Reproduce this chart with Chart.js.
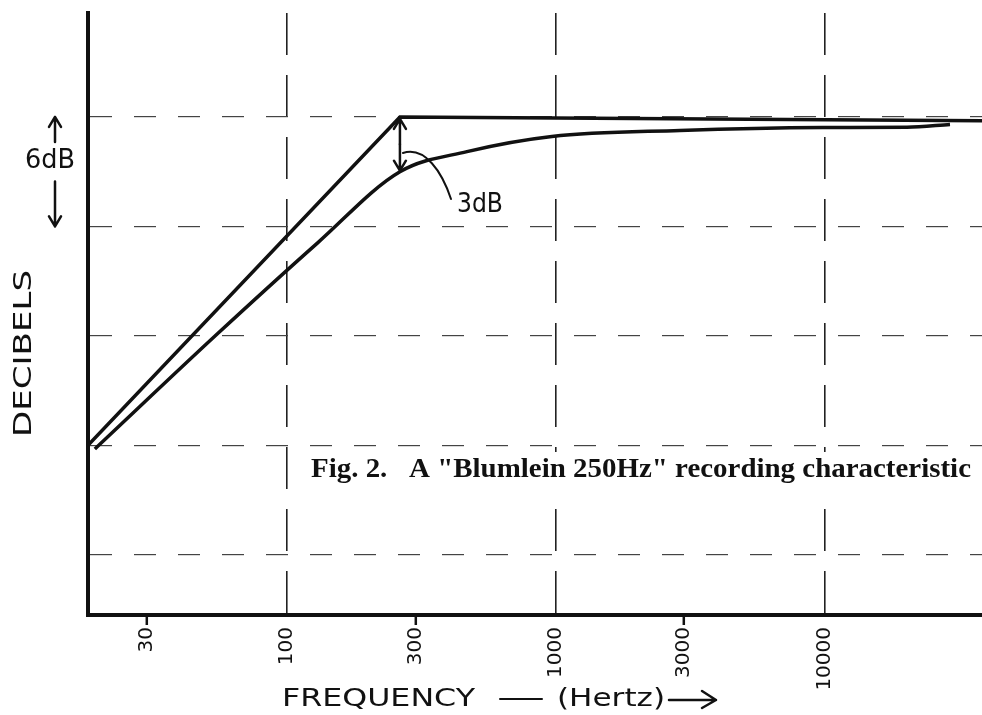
<!doctype html>
<html>
<head>
    <title>Blumlein 250Hz</title>
    <script src="https://cdn.jsdelivr.net/npm/chart.js"></script>
    <style>
        body { margin: 0; background: #fff; }
        canvas { display: block; }
    </style>
</head>
<body>
    <canvas id="grafico" width="982" height="715"></canvas>

    <script>
        // Eixo de frequência (Hz) e marcas
        var freqTicks = [30, 100, 300, 1000, 3000, 10000];
        var tickLabels = ['30', '100', '300', '1000', '3000', '10000'];
        var gridFreqs = [100, 1000, 10000];
        // Linhas horizontais, a cada 6 dB
        var dbGrid = [-24, -18, -12, -6, 0];

        // Assíntotas (reta de subida + patamar)
        var asymFreq = [18.2, 263, 38400];
        var asymDb = [-18, 0, -0.2];

        // Curva real da característica
        var respFreq = [19.3, 55, 130, 263, 467, 966, 2890, 9840, 20200, 29200];
        var respDb = [-18.2, -11.9, -6.9, -3.0, -1.9, -1.07, -0.74, -0.58, -0.56, -0.41];

        var tinta = '#111';
        var maoLivre = '"DejaVu Sans", sans-serif';

        function pontos(xs, ys) {
            return xs.map(function (x, i) { return { x: x, y: ys[i] }; });
        }

        // Texto esticado/comprimido para caber numa largura
        function textoAjustado(ctx, texto, x, y, largura, fonte) {
            ctx.save();
            ctx.font = fonte;
            ctx.textAlign = 'left';
            ctx.textBaseline = 'middle';
            var w = ctx.measureText(texto).width;
            ctx.translate(x, y);
            ctx.scale(largura / w, 1);
            ctx.fillText(texto, 0, 0);
            ctx.restore();
        }

        function seta(ctx, x, yDe, yPara) {
            var d = yPara > yDe ? 1 : -1;
            ctx.beginPath();
            ctx.moveTo(x, yDe);
            ctx.lineTo(x, yPara);
            ctx.moveTo(x - 6, yPara - d * 10);
            ctx.lineTo(x, yPara);
            ctx.lineTo(x + 6, yPara - d * 10);
            ctx.stroke();
        }

        // Anotações à mão: títulos, setas de 6 dB e 3 dB, legenda da figura
        var anotacoes = {
            id: 'anotacoes',
            afterDraw: function (chart) {
                var ctx = chart.ctx;
                var xs = chart.scales.x, ys = chart.scales.y;
                ctx.save();
                ctx.fillStyle = tinta;
                ctx.strokeStyle = tinta;
                ctx.lineCap = 'round';
                ctx.lineJoin = 'round';

                // DECIBELS (vertical)
                ctx.save();
                ctx.translate(25, 353);
                ctx.rotate(-Math.PI / 2);
                textoAjustado(ctx, 'DECIBELS', -84, 0, 167, '24px ' + maoLivre);
                ctx.restore();

                // FREQUENCY — (Hertz) →
                textoAjustado(ctx, 'FREQUENCY', 282, 699, 193, '25px ' + maoLivre);
                ctx.lineWidth = 2;
                ctx.beginPath();
                ctx.moveTo(500, 699);
                ctx.lineTo(542, 699);
                ctx.stroke();
                textoAjustado(ctx, '(Hertz)', 557, 699, 108, '25px ' + maoLivre);
                ctx.lineWidth = 2.5;
                ctx.beginPath();
                ctx.moveTo(669, 700);
                ctx.lineTo(716, 700);
                ctx.moveTo(702, 691);
                ctx.lineTo(716, 700);
                ctx.lineTo(702, 708);
                ctx.stroke();

                // 6dB entre duas linhas da grade
                var yTopo = ys.getPixelForValue(0);
                var yBase = ys.getPixelForValue(-6);
                ctx.lineWidth = 2.5;
                seta(ctx, 55, yTopo + 25, yTopo);
                seta(ctx, 55, yBase - 45, yBase);
                textoAjustado(ctx, '6dB', 25, 161, 50, '26px ' + maoLivre);

                // 3dB no ponto de transição
                var xc = xs.getPixelForValue(asymFreq[1]);
                var y3 = ys.getPixelForValue(respDb[3]);
                ctx.lineWidth = 2.5;
                seta(ctx, xc, (yTopo + y3) / 2, yTopo + 2);
                seta(ctx, xc, (yTopo + y3) / 2, y3 - 1);
                ctx.lineWidth = 2;
                ctx.beginPath();
                ctx.moveTo(xc + 3, 153);
                ctx.bezierCurveTo(425, 146, 442, 172, 451, 199);
                ctx.stroke();
                textoAjustado(ctx, '3dB', 457, 205, 46, '26px ' + maoLivre);

                // Legenda da figura, com fundo branco
                ctx.fillStyle = '#fff';
                ctx.fillRect(300, 452, 682, 40);
                ctx.fillStyle = tinta;
                textoAjustado(ctx, 'Fig. 2.   A "Blumlein 250Hz" recording characteristic', 311, 470, 660,
                    'bold 27px "Liberation Serif", serif');

                ctx.restore();
            }
        };

        var grafico = new Chart(document.getElementById('grafico').getContext('2d'), {
            type: 'line',
            data: {
                datasets: [{
                    label: 'Assíntotas',
                    data: pontos(asymFreq, asymDb),
                    borderColor: tinta,
                    borderWidth: 3.5,
                    pointRadius: 0,
                    tension: 0
                }, {
                    label: 'Característica',
                    data: pontos(respFreq, respDb),
                    borderColor: tinta,
                    borderWidth: 3.5,
                    pointRadius: 0,
                    cubicInterpolationMode: 'monotone'
                }]
            },
            options: {
                responsive: false,
                animation: false,
                devicePixelRatio: 1,
                layout: { padding: { top: 13, right: 0, bottom: 0, left: 0 } },
                plugins: {
                    legend: { display: false },
                    tooltip: { enabled: false }
                },
                scales: {
                    x: {
                        type: 'logarithmic',
                        position: 'bottom',
                        bounds: 'data',
                        min: 18.2,
                        max: 38400,
                        afterBuildTicks: function (s) {
                            s.ticks = freqTicks.map(function (v) { return { value: v }; });
                        },
                        afterFit: function (s) { s.height = 100; },
                        ticks: {
                            autoSkip: false,
                            minRotation: 90,
                            maxRotation: 90,
                            padding: 2,
                            color: tinta,
                            font: { family: maoLivre, size: 20 },
                            callback: function (v, i) { return tickLabels[i]; }
                        },
                        grid: {
                            color: function (c) {
                                return c.tick && gridFreqs.indexOf(c.tick.value) >= 0 ? '#222' : 'rgba(0,0,0,0)';
                            },
                            tickColor: function (c) {
                                return c.tick && gridFreqs.indexOf(c.tick.value) < 0 ? tinta : 'rgba(0,0,0,0)';
                            },
                            lineWidth: 1.6,
                            tickLength: 10,
                            tickWidth: 2.5,
                            tickBorderDash: []
                        },
                        border: { color: tinta, width: 4, dash: [42, 20] }
                    },
                    y: {
                        min: -27.3,
                        max: 5.7,
                        afterBuildTicks: function (s) {
                            s.ticks = dbGrid.map(function (v) { return { value: v }; });
                        },
                        afterFit: function (s) { s.width = 88; },
                        ticks: { display: false },
                        grid: { color: '#444', lineWidth: 1.2, drawTicks: false },
                        border: { color: tinta, width: 4, dash: [22, 22] }
                    }
                }
            },
            plugins: [anotacoes]
        });
    </script>
</body>
</html>
